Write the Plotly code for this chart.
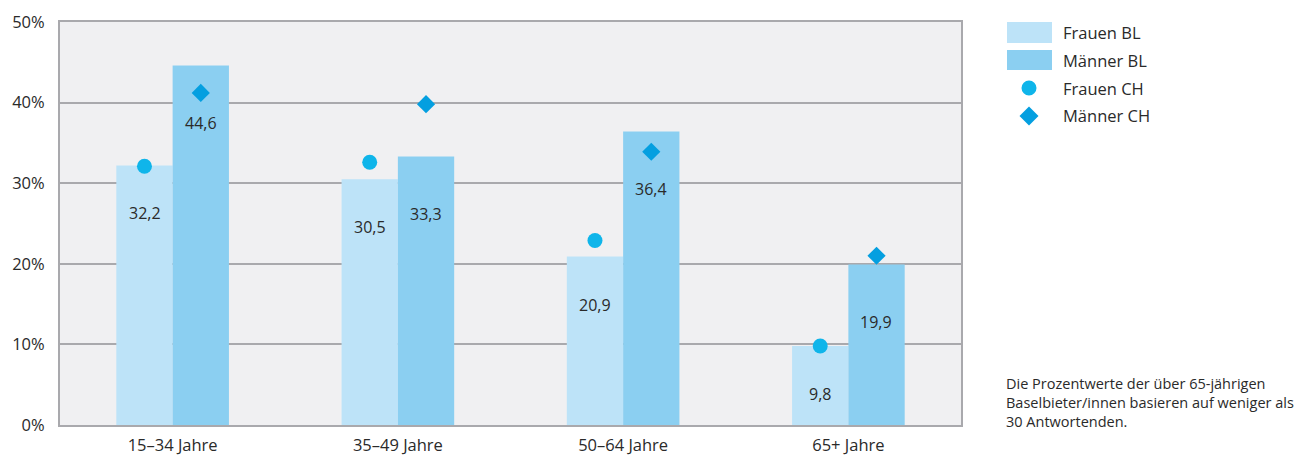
import plotly.graph_objects as go

# Age groups and shares (percent)
categories = ["15–34 Jahre", "35–49 Jahre", "50–64 Jahre", "65+ Jahre"]
frauen_bl = [32.2, 30.5, 20.9, 9.8]
maenner_bl = [44.6, 33.3, 36.4, 19.9]
frauen_ch = [32.1, 32.6, 22.9, 9.8]
maenner_ch = [41.2, 39.8, 33.9, 21.0]
y_ticks = [0, 10, 20, 30, 40, 50]
y_tick_labels = ["0%", "10%", "20%", "30%", "40%", "50%"]

C_FBL = "#bde3f8"
C_MBL = "#8bcff1"
C_FCH = "#0fb5ea"
C_MCH = "#049fe0"
GRID = "#a9a9ad"
TXT = "#2a2a2a"
FONT = "Open Sans"

def fmt(v):
    return f"{v:.1f}".replace(".", ",")

fig = go.Figure()
fig.add_trace(go.Bar(x=categories, y=frauen_bl, name="Frauen BL",
                     marker=dict(color=C_FBL, line=dict(width=0))))
fig.add_trace(go.Bar(x=categories, y=maenner_bl, name="Männer BL",
                     marker=dict(color=C_MBL, line=dict(width=0))))
fig.add_trace(go.Scatter(x=categories, y=frauen_ch, name="Frauen CH", mode="markers",
                         marker=dict(symbol="circle", size=15, color=C_FCH)))
fig.add_trace(go.Scatter(x=categories, y=maenner_ch, name="Männer CH", mode="markers",
                         marker=dict(symbol="diamond", size=14, color=C_MCH)))

annotations = []
# value labels inside the bars, below the markers
for cat, v in zip(categories, frauen_bl):
    annotations.append(dict(x=cat, y=v, xref="x", yref="y", text=fmt(v), showarrow=False,
                            xshift=-28, yshift=-48, font=dict(size=16, color=TXT, family=FONT)))
for cat, v in zip(categories, maenner_bl):
    annotations.append(dict(x=cat, y=v, xref="x", yref="y", text=fmt(v), showarrow=False,
                            xshift=28, yshift=-57, font=dict(size=16, color=TXT, family=FONT)))

# custom legend on the right
px_w, px_h = 901.0, 403.0
def px(x):
    return (x - 60) / px_w
def py(y):
    return (425 - y) / px_h

shapes = [
    dict(type="rect", xref="paper", yref="paper", x0=px(1007), x1=px(1052),
         y0=py(43), y1=py(22), fillcolor=C_FBL, line=dict(width=0)),
    dict(type="rect", xref="paper", yref="paper", x0=px(1007), x1=px(1052),
         y0=py(70), y1=py(50), fillcolor=C_MBL, line=dict(width=0)),
    dict(type="circle", xref="paper", yref="paper", xsizemode="pixel", ysizemode="pixel",
         xanchor=px(1029), yanchor=py(88), x0=-7.5, x1=7.5, y0=-7.5, y1=7.5,
         fillcolor=C_FCH, line=dict(width=0)),
    dict(type="path", xref="paper", yref="paper", xsizemode="pixel", ysizemode="pixel",
         xanchor=px(1029), yanchor=py(116), path="M 0 9.5 L 9.5 0 L 0 -9.5 L -9.5 0 Z",
         fillcolor=C_MCH, line=dict(width=0)),
]
legend_items = [("Frauen BL", 32), ("Männer BL", 60), ("Frauen CH", 88), ("Männer CH", 116)]
for label, yy in legend_items:
    annotations.append(dict(x=px(1061), y=py(yy), xref="paper", yref="paper", text=label,
                            showarrow=False, xanchor="left", yanchor="middle",
                            font=dict(size=16.5, color=TXT, family=FONT)))

annotations.append(dict(
    x=px(1004), y=py(372), xref="paper", yref="paper", xanchor="left", yanchor="top",
    align="left", showarrow=False,
    text="Die Prozentwerte der über 65-jährigen<br>Baselbieter/innen basieren auf weniger als<br>30 Antwortenden.",
    font=dict(size=14.5, color=TXT, family=FONT)))

fig.update_layout(
    width=1304, height=455,
    margin=dict(l=60, r=343, t=22, b=30),
    paper_bgcolor="white", plot_bgcolor="#f0f0f2",
    barmode="group", bargap=0.5, bargroupgap=0,
    scattermode="group", scattergap=0.5,
    showlegend=False,
    font=dict(family=FONT, color=TXT, size=16),
    annotations=annotations, shapes=shapes,
)
fig.update_xaxes(showgrid=False, showline=True, linecolor=GRID, linewidth=2, mirror=True,
                 ticks="outside", ticklen=4, tickcolor="rgba(0,0,0,0)", automargin=False,
                 tickfont=dict(size=16.5, color=TXT, family=FONT))
fig.update_yaxes(range=[0, 50], tickvals=y_ticks, ticktext=y_tick_labels, showgrid=True,
                 gridcolor=GRID, gridwidth=2, zeroline=False,
                 showline=True, linecolor=GRID, linewidth=2, mirror=True,
                 ticks="outside", ticklen=10, tickcolor="rgba(0,0,0,0)", automargin=False,
                 tickfont=dict(size=16.5, color=TXT, family=FONT))

fig.write_html("out.html")
